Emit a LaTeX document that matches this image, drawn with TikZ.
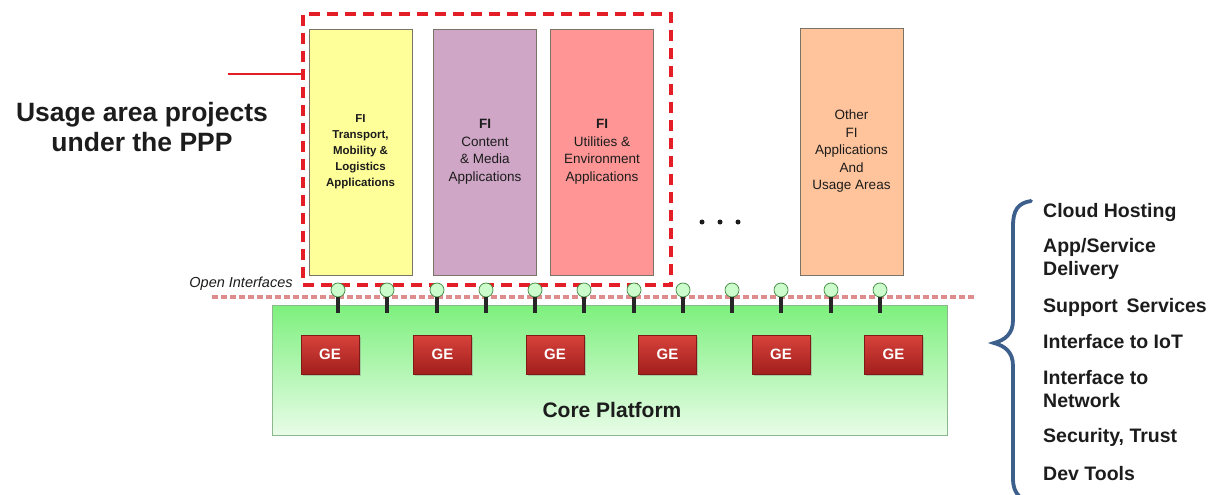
\documentclass[tikz,border=0pt]{standalone}
\usepackage{fontspec}
\setmainfont{Liberation Sans}
\usetikzlibrary{shadows}
\definecolor{fired}{HTML}{E41E26}
\definecolor{dotpink}{HTML}{DE8C8C}
\definecolor{appyellow}{HTML}{FFFF99}
\definecolor{apppurple}{HTML}{CFA6C6}
\definecolor{apppink}{HTML}{FF9595}
\definecolor{apporange}{HTML}{FFC49B}
\definecolor{boxline}{HTML}{7A7466}
\definecolor{greentop}{HTML}{7DF07D}
\definecolor{greenbot}{HTML}{E8FCE8}
\definecolor{greenline}{HTML}{8DB88D}
\definecolor{oifill}{HTML}{CCFBCC}
\definecolor{oiline}{HTML}{3F8A3F}
\definecolor{getop}{HTML}{D8423C}
\definecolor{gebot}{HTML}{A11F1C}
\definecolor{braceblue}{HTML}{3D5F8C}
\definecolor{txt}{HTML}{1C1C1C}
\begin{document}
\begin{tikzpicture}[x=1pt, y=-1pt,
  appbox/.style={draw=boxline, line width=0.8pt, minimum width=103pt, minimum height=246pt, inner sep=0pt, align=center, text=txt},
  gebox/.style={draw=gebot!80!black, line width=0.6pt, top color=getop, bottom color=gebot, minimum width=58pt, minimum height=39pt, text=white, font=\bfseries\fontsize{15}{17}\selectfont, drop shadow={shadow xshift=1.5pt, shadow yshift=-1.5pt, opacity=0.35}},
  oi/.style={circle, draw=oiline, fill=oifill, line width=0.7pt, minimum size=14pt, inner sep=0pt},
  stem/.style={line width=3.6pt, black!85},
  item/.style={anchor=west, inner sep=0pt, align=left, text=txt, font=\bfseries\fontsize{19.5}{23}\selectfont}]
\useasboundingbox (0,0) rectangle (1226,495);
% core platform
\node[draw=greenline, line width=0.8pt, top color=greentop, bottom color=greenbot, minimum width=675pt, minimum height=130pt] (plat) at (609.5,370){};
\node[text=txt, font=\bfseries\fontsize{21}{24}\selectfont] (coretxt) at (612,410){Core Platform};
\coordinate (dl0) at (212,297);
\coordinate (dl1) at (975,297);
\draw[dotpink, line width=3.2pt, dash pattern=on 6pt off 3pt](dl0) -- (dl1);
% usage area projects
\node[draw=fired, line width=3.2pt, dash pattern=on 11pt off 7pt, minimum width=368pt, minimum height=271pt] (usage) at (487,149.5){};
\node[text=txt, align=center, font=\bfseries\fontsize{26.5}{30}\selectfont] (ppp) at (142,127){Usage area projects\\under the PPP};
\coordinate (lead) at (228,74);
\draw[fired, line width=1.6pt](lead) -- (usage.west |- lead);
\node[appbox, fill=appyellow, font=\bfseries\fontsize{11.5}{16}\selectfont] (app0) at (360.5,152){FI\\Transport,\\Mobility \&\\Logistics\\Applications};
\node[appbox, fill=apppurple, font=\fontsize{13.5}{17.5}\selectfont] (app1) at (485,152){\textbf{FI}\\Content\\\& Media\\Applications};
\node[appbox, fill=apppink, font=\fontsize{13.5}{17.5}\selectfont] (app2) at (602,152){\textbf{FI}\\Utilities \&\\Environment\\Applications};
\node[appbox, fill=apporange, minimum height=247pt, font=\fontsize{13.5}{17.5}\selectfont] (app3) at (851.5,151.5){Other\\FI\\Applications\\And\\Usage Areas};
\node[circle, fill=txt, minimum size=5pt, inner sep=0pt] (dot0) at (702,222){};
\node[circle, fill=txt, minimum size=5pt, inner sep=0pt] (dot1) at (720,222){};
\node[circle, fill=txt, minimum size=5pt, inner sep=0pt] (dot2) at (738,222){};
% open interfaces
\node[text=txt, font=\itshape\fontsize{14.5}{16}\selectfont] (oitxt) at (241,284){Open Interfaces};
\node[oi] (oi0) at (338,290){};
\coordinate (st0) at (338,313);
\draw[stem](oi0) -- (st0);
\node[oi] (oi1) at (387,290){};
\coordinate (st1) at (387,313);
\draw[stem](oi1) -- (st1);
\node[oi] (oi2) at (437,290){};
\coordinate (st2) at (437,313);
\draw[stem](oi2) -- (st2);
\node[oi] (oi3) at (486,290){};
\coordinate (st3) at (486,313);
\draw[stem](oi3) -- (st3);
\node[oi] (oi4) at (535,290){};
\coordinate (st4) at (535,313);
\draw[stem](oi4) -- (st4);
\node[oi] (oi5) at (584,290){};
\coordinate (st5) at (584,313);
\draw[stem](oi5) -- (st5);
\node[oi] (oi6) at (634,290){};
\coordinate (st6) at (634,313);
\draw[stem](oi6) -- (st6);
\node[oi] (oi7) at (683,290){};
\coordinate (st7) at (683,313);
\draw[stem](oi7) -- (st7);
\node[oi] (oi8) at (732,290){};
\coordinate (st8) at (732,313);
\draw[stem](oi8) -- (st8);
\node[oi] (oi9) at (781,290){};
\coordinate (st9) at (781,313);
\draw[stem](oi9) -- (st9);
\node[oi] (oi10) at (831,290){};
\coordinate (st10) at (831,313);
\draw[stem](oi10) -- (st10);
\node[oi] (oi11) at (880,290){};
\coordinate (st11) at (880,313);
\draw[stem](oi11) -- (st11);
% generic enablers
\node[gebox] (ge0) at (330,354.5){GE};
\node[gebox] (ge1) at (442.5,354.5){GE};
\node[gebox] (ge2) at (555,354.5){GE};
\node[gebox] (ge3) at (667.5,354.5){GE};
\node[gebox] (ge4) at (781,354.5){GE};
\node[gebox] (ge5) at (893.5,354.5){GE};
% platform functions
\draw[braceblue, line width=3.8pt, line cap=round](1031,201) .. controls (1018,203) and (1013,210) .. (1013,226) -- (1013,320) .. controls (1013,334) and (1005,340) .. (994,343) .. controls (1005,346) and (1013,352) .. (1013,366) -- (1013,478) .. controls (1013,487) and (1015,492) .. (1019,496);
\node[item] (f0) at (1043,212){Cloud Hosting};
\node[item] (f1) at (1043,258.5){App/Service\\Delivery};
\node[item] (f2) at (1043,307){Support\,\ Services};
\node[item] (f3) at (1043,342){Interface to IoT};
\node[item] (f4) at (1043,389.5){Interface to\\Network};
\node[item] (f5) at (1043,437){Security, Trust};
\node[item] (f6) at (1043,474){Dev Tools};
\end{tikzpicture}
\end{document}
